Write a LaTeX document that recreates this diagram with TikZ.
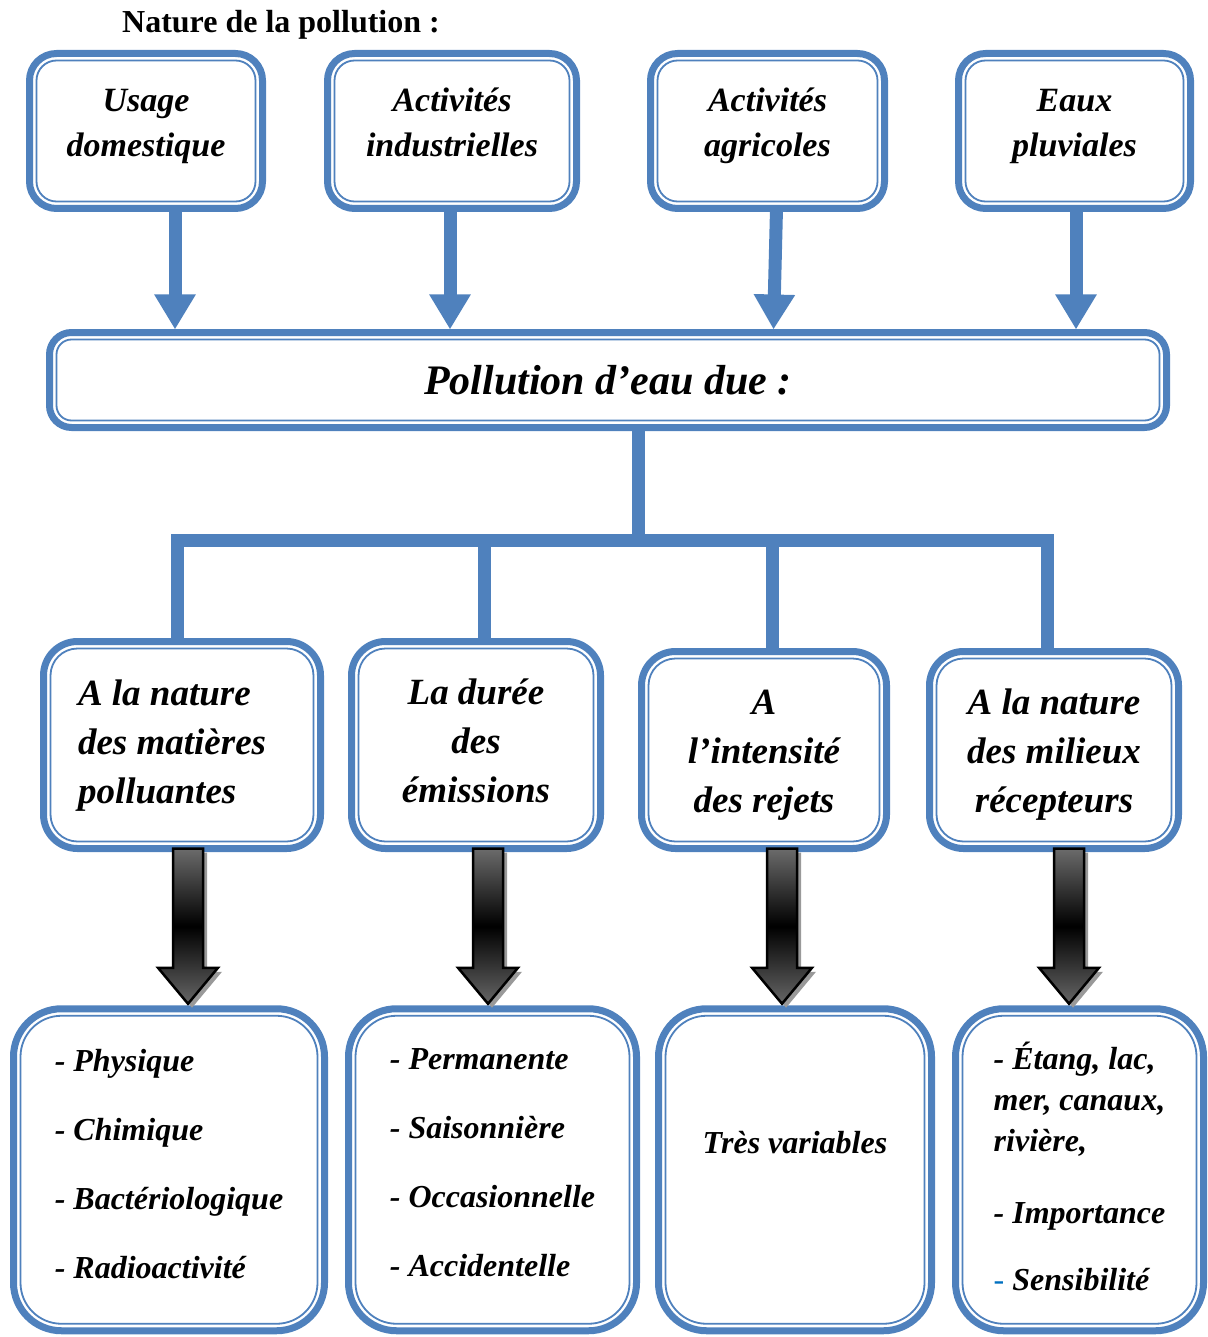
\documentclass[tikz,border=0pt]{standalone}
\usepackage{fontspec}
\setmainfont{Liberation Serif}[BoldFont={Liberation Serif Bold}, ItalicFont={Liberation Serif Italic}, BoldItalicFont={Liberation Serif Bold Italic}]
\usetikzlibrary{arrows.meta,calc}

\definecolor{bleu}{RGB}{79,129,189}
\definecolor{tiret}{RGB}{0,112,192}

\tikzset{
  boite/.style={draw=bleu, line width=7pt, fill=white, inner sep=0pt, outer sep=0pt, align=center},
  filet/.style={draw=bleu, line width=1.8pt},
  fleche/.style={draw=bleu, line width=13pt, -{Triangle[width=39pt,length=35pt]}},
  tronc/.style={draw=bleu, line width=13pt, line join=miter},
  grise/.style={draw=black, line width=2.5pt, line join=miter, top color=black!58, bottom color=black!60, middle color=black},
  ombre/.style={fill=black!40},
  haut/.style={boite, rounded corners=27pt, minimum height=155pt, text height=70pt, text depth=18pt,
    font=\fontsize{34}{45}\selectfont\bfseries\itshape},
  milieu/.style={boite, rounded corners=34pt, text depth=11pt, font=\fontsize{37}{49}\selectfont\bfseries\itshape},
  bas/.style={boite, rounded corners=48pt, minimum height=322pt, font=\fontsize{32}{69}\selectfont\bfseries\itshape}
}

\newcommand{\doublure}[2]{%
  \draw[filet, rounded corners=#2] ([shift={(7pt,-7pt)}]#1.north west) rectangle ([shift={(-7pt,7pt)}]#1.south east);}

\newcommand{\flechegrise}[2]{%
  \path[ombre] let \p1=(#1), \p2=(#2) in
    (\x1-11pt,\y1-4pt) -- (\x1+19pt,\y1-4pt) -- (\x1+19pt,\y2+32pt) -- (\x1+34pt,\y2+32pt)
    -- (\x1+4pt,\y2-4pt) -- (\x1-26pt,\y2+32pt) -- (\x1-11pt,\y2+32pt) -- cycle;
  \path[grise] let \p1=(#1), \p2=(#2) in
    (\x1-15pt,\y1) -- (\x1+15pt,\y1) -- (\x1+15pt,\y2+36pt) -- (\x1+30pt,\y2+36pt)
    -- (\x1,\y2) -- (\x1-30pt,\y2+36pt) -- (\x1-15pt,\y2+36pt) -- cycle;}

\begin{document}
\begin{tikzpicture}[x=1pt, y=-1pt]
  \useasboundingbox (0,0) rectangle (1207,1337);

  \node[font=\fontsize{32}{38}\selectfont\bfseries] (titre) at (281,25) {Nature de la pollution :};

  \node[haut, minimum width=233pt] (u1) at (146,131) {Usage\\domestique};
  \node[haut, minimum width=249pt] (u2) at (452,131) {Activités\\industrielles};
  \node[haut, minimum width=234pt] (u3) at (767.5,131) {Activités\\agricoles};
  \node[haut, minimum width=232pt] (u4) at (1074.5,131) {Eaux\\pluviales};

  \node[boite, rounded corners=22pt, minimum width=1117pt, minimum height=95pt,
        font=\fontsize{42}{50}\selectfont\bfseries\itshape] (poll) at (608,380) {Pollution d’eau due :};

  \node[milieu, align=flush left, text width=208pt, text height=26pt, text depth=106pt, minimum width=277pt, minimum height=207pt] (m1) at (182,745) {A la nature\\des matières\\polluantes};
  \node[milieu, text height=126pt, minimum width=249pt, minimum height=207pt] (m2) at (476,745) {La durée\\des\\émissions};
  \node[milieu, text height=135pt, minimum width=245pt, minimum height=197pt] (m3) at (764,750) {A\\l’intensité\\des rejets};
  \node[milieu, text height=135pt, minimum width=249pt, minimum height=197pt] (m4) at (1054,750) {A la nature\\des milieux\\récepteurs};

  \node[bas, align=left, text height=228pt, text depth=10pt, minimum width=311pt] (b1) at (169,1169.75)
    {- Physique\\- Chimique\\- Bactériologique\\- Radioactivité};
  \node[bas, align=left, text height=224pt, text depth=10pt, minimum width=288pt] (b2) at (492.5,1169.75)
    {- Permanente\\- Saisonnière\\- Occasionnelle\\- Accidentelle};
  \node[bas, minimum width=273pt, text height=22pt, text depth=54pt] (b3) at (795,1169.75) {Très variables};
  \node[bas, align=left, text height=252pt, text depth=10pt, minimum width=248pt,
        font=\fontsize{32}{41}\selectfont\bfseries\itshape] (b4) at (1079.5,1169.75)
    {- Étang, lac,\\mer, canaux,\\rivière,\\[31pt]- Importance\\[26pt]{\color{tiret}\mdseries\upshape -} Sensibilité};

  \doublure{u1}{20pt} \doublure{u2}{20pt} \doublure{u3}{20pt} \doublure{u4}{20pt}
  \doublure{poll}{15pt}
  \doublure{m1}{27pt} \doublure{m2}{27pt} \doublure{m3}{27pt} \doublure{m4}{27pt}
  \doublure{b1}{41pt} \doublure{b2}{41pt} \doublure{b3}{41pt} \doublure{b4}{41pt}

  \draw[fleche] ([xshift=29pt]u1.south) -- ([xshift=29pt,yshift=3pt]u1.south |- poll.north);
  \draw[fleche] ([xshift=-2pt]u2.south) -- ([xshift=-2pt,yshift=3pt]u2.south |- poll.north);
  \draw[fleche] ([xshift=9pt]u3.south) -- ([xshift=6pt,yshift=3pt]u3.south |- poll.north);
  \draw[fleche] ([xshift=1.5pt]u4.south) -- ([xshift=1.5pt,yshift=3pt]u4.south |- poll.north);

  \coordinate (barre) at (638,540);
  \draw[tronc] (poll.south -| barre) -- (barre);
  \draw[tronc] ([xshift=-5pt]m1.north) |- (barre) -| ([xshift=-7pt]m4.north);
  \draw[tronc] ([xshift=8pt]m2.north) -- ([xshift=8pt]m2.north |- barre);
  \draw[tronc] ([xshift=8pt]m3.north) -- ([xshift=8pt]m3.north |- barre);

  \flechegrise{[xshift=6pt]m1.south}{[yshift=5pt]b1.north}
  \flechegrise{[xshift=12pt]m2.south}{[yshift=5pt]b2.north}
  \flechegrise{[xshift=18pt]m3.south}{[yshift=5pt]b3.north}
  \flechegrise{[xshift=15pt]m4.south}{[yshift=5pt]b4.north}
\end{tikzpicture}
\end{document}
